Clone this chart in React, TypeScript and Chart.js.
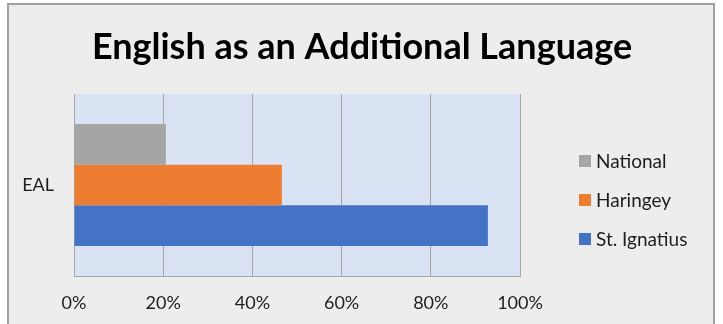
import React, { useEffect, useRef } from "react";
import { Chart, registerables } from "chart.js";

Chart.register(...registerables);

const TITLE = "English as an Additional Language";
const CATEGORIES = ["EAL"];
const SERIES_LABELS = ["National", "Haringey", "St. Ignatius"];
const NATIONAL = [20.6];
const HARINGEY = [46.6];
const ST_IGNATIUS = [92.8];
const SERIES_COLORS = ["#A5A5A5", "#ED7D31", "#4472C4"];
const X_MIN = 0;
const X_MAX = 100;
const X_STEP = 20;

const FONT = "Lato, 'Open Sans', sans-serif";
const TEXT_COLOR = "#1E1E1E";
const GRID_COLOR = "#A6A6A6";

const backgroundPlugin = {
  id: "bgPlugin",
  beforeDraw(chart: any) {
    const { ctx, chartArea } = chart;
    ctx.save();
    ctx.fillStyle = "#FFFFFF";
    ctx.fillRect(0, 0, chart.width, chart.height);
    ctx.fillStyle = "#EDEDED";
    ctx.fillRect(8, 4, 706, 340);
    ctx.strokeStyle = "#A0A0A0";
    ctx.lineWidth = 2;
    ctx.strokeRect(8, 4, 706, 340);
    ctx.fillStyle = "#DAE3F3";
    ctx.fillRect(
      chartArea.left,
      chartArea.top,
      chartArea.right - chartArea.left,
      chartArea.bottom - chartArea.top
    );
    ctx.restore();
  },
};

const titleLegendPlugin = {
  id: "titleLegend",
  afterDraw(chart: any) {
    const { ctx } = chart;
    ctx.save();
    ctx.fillStyle = "#000000";
    ctx.font = `bold 36px ${FONT}`;
    ctx.textAlign = "center";
    ctx.textBaseline = "middle";
    ctx.fillText(TITLE, 362, 47);

    ctx.font = `19px ${FONT}`;
    ctx.textAlign = "left";
    chart.data.datasets.forEach((ds: any, i: number) => {
      const cy = 161 + i * 39;
      ctx.fillStyle = ds.backgroundColor;
      ctx.fillRect(579, cy - 6, 12, 12);
      ctx.fillStyle = TEXT_COLOR;
      ctx.fillText(ds.label, 596, cy + 1);
    });
    ctx.restore();
  },
};

export default function App() {
  const ref = useRef<HTMLCanvasElement>(null);

  useEffect(() => {
    if (!ref.current) return;
    const datasets = [NATIONAL, HARINGEY, ST_IGNATIUS].map((d, i) => ({
      label: SERIES_LABELS[i],
      data: d,
      backgroundColor: SERIES_COLORS[i],
      borderWidth: 0,
      barPercentage: 1,
      categoryPercentage: 0.67,
    }));
    const chart = new Chart(ref.current, {
      type: "bar",
      data: { labels: CATEGORIES, datasets },
      options: {
        indexAxis: "y",
        responsive: false,
        animation: false,
        devicePixelRatio: 1,
        layout: { padding: { left: 0, right: 203, top: 94, bottom: 0 } },
        plugins: {
          legend: { display: false },
          title: { display: false },
          tooltip: { enabled: false },
        },
        scales: {
          x: {
            min: X_MIN,
            max: X_MAX,
            ticks: {
              stepSize: X_STEP,
              padding: 16,
              color: TEXT_COLOR,
              font: { family: FONT, size: 18 },
              callback: (v: any) => `${v}%`,
            },
            grid: { color: GRID_COLOR, drawTicks: false, lineWidth: 1 },
            border: { display: true, color: GRID_COLOR },
            afterFit: (s: any) => {
              s.height = 48;
            },
          },
          y: {
            ticks: {
              padding: 20,
              color: TEXT_COLOR,
              font: { family: FONT, size: 18 },
            },
            grid: { display: false, drawTicks: false },
            border: { display: true, color: GRID_COLOR },
            afterFit: (s: any) => {
              s.width = 74;
            },
          },
        },
      },
      plugins: [backgroundPlugin, titleLegendPlugin],
    });
    return () => chart.destroy();
  }, []);

  return (
    <div style={{ position: "absolute", left: 0, top: 0, width: 723, height: 324 }}>
      <canvas ref={ref} width={723} height={324} />
    </div>
  );
}
